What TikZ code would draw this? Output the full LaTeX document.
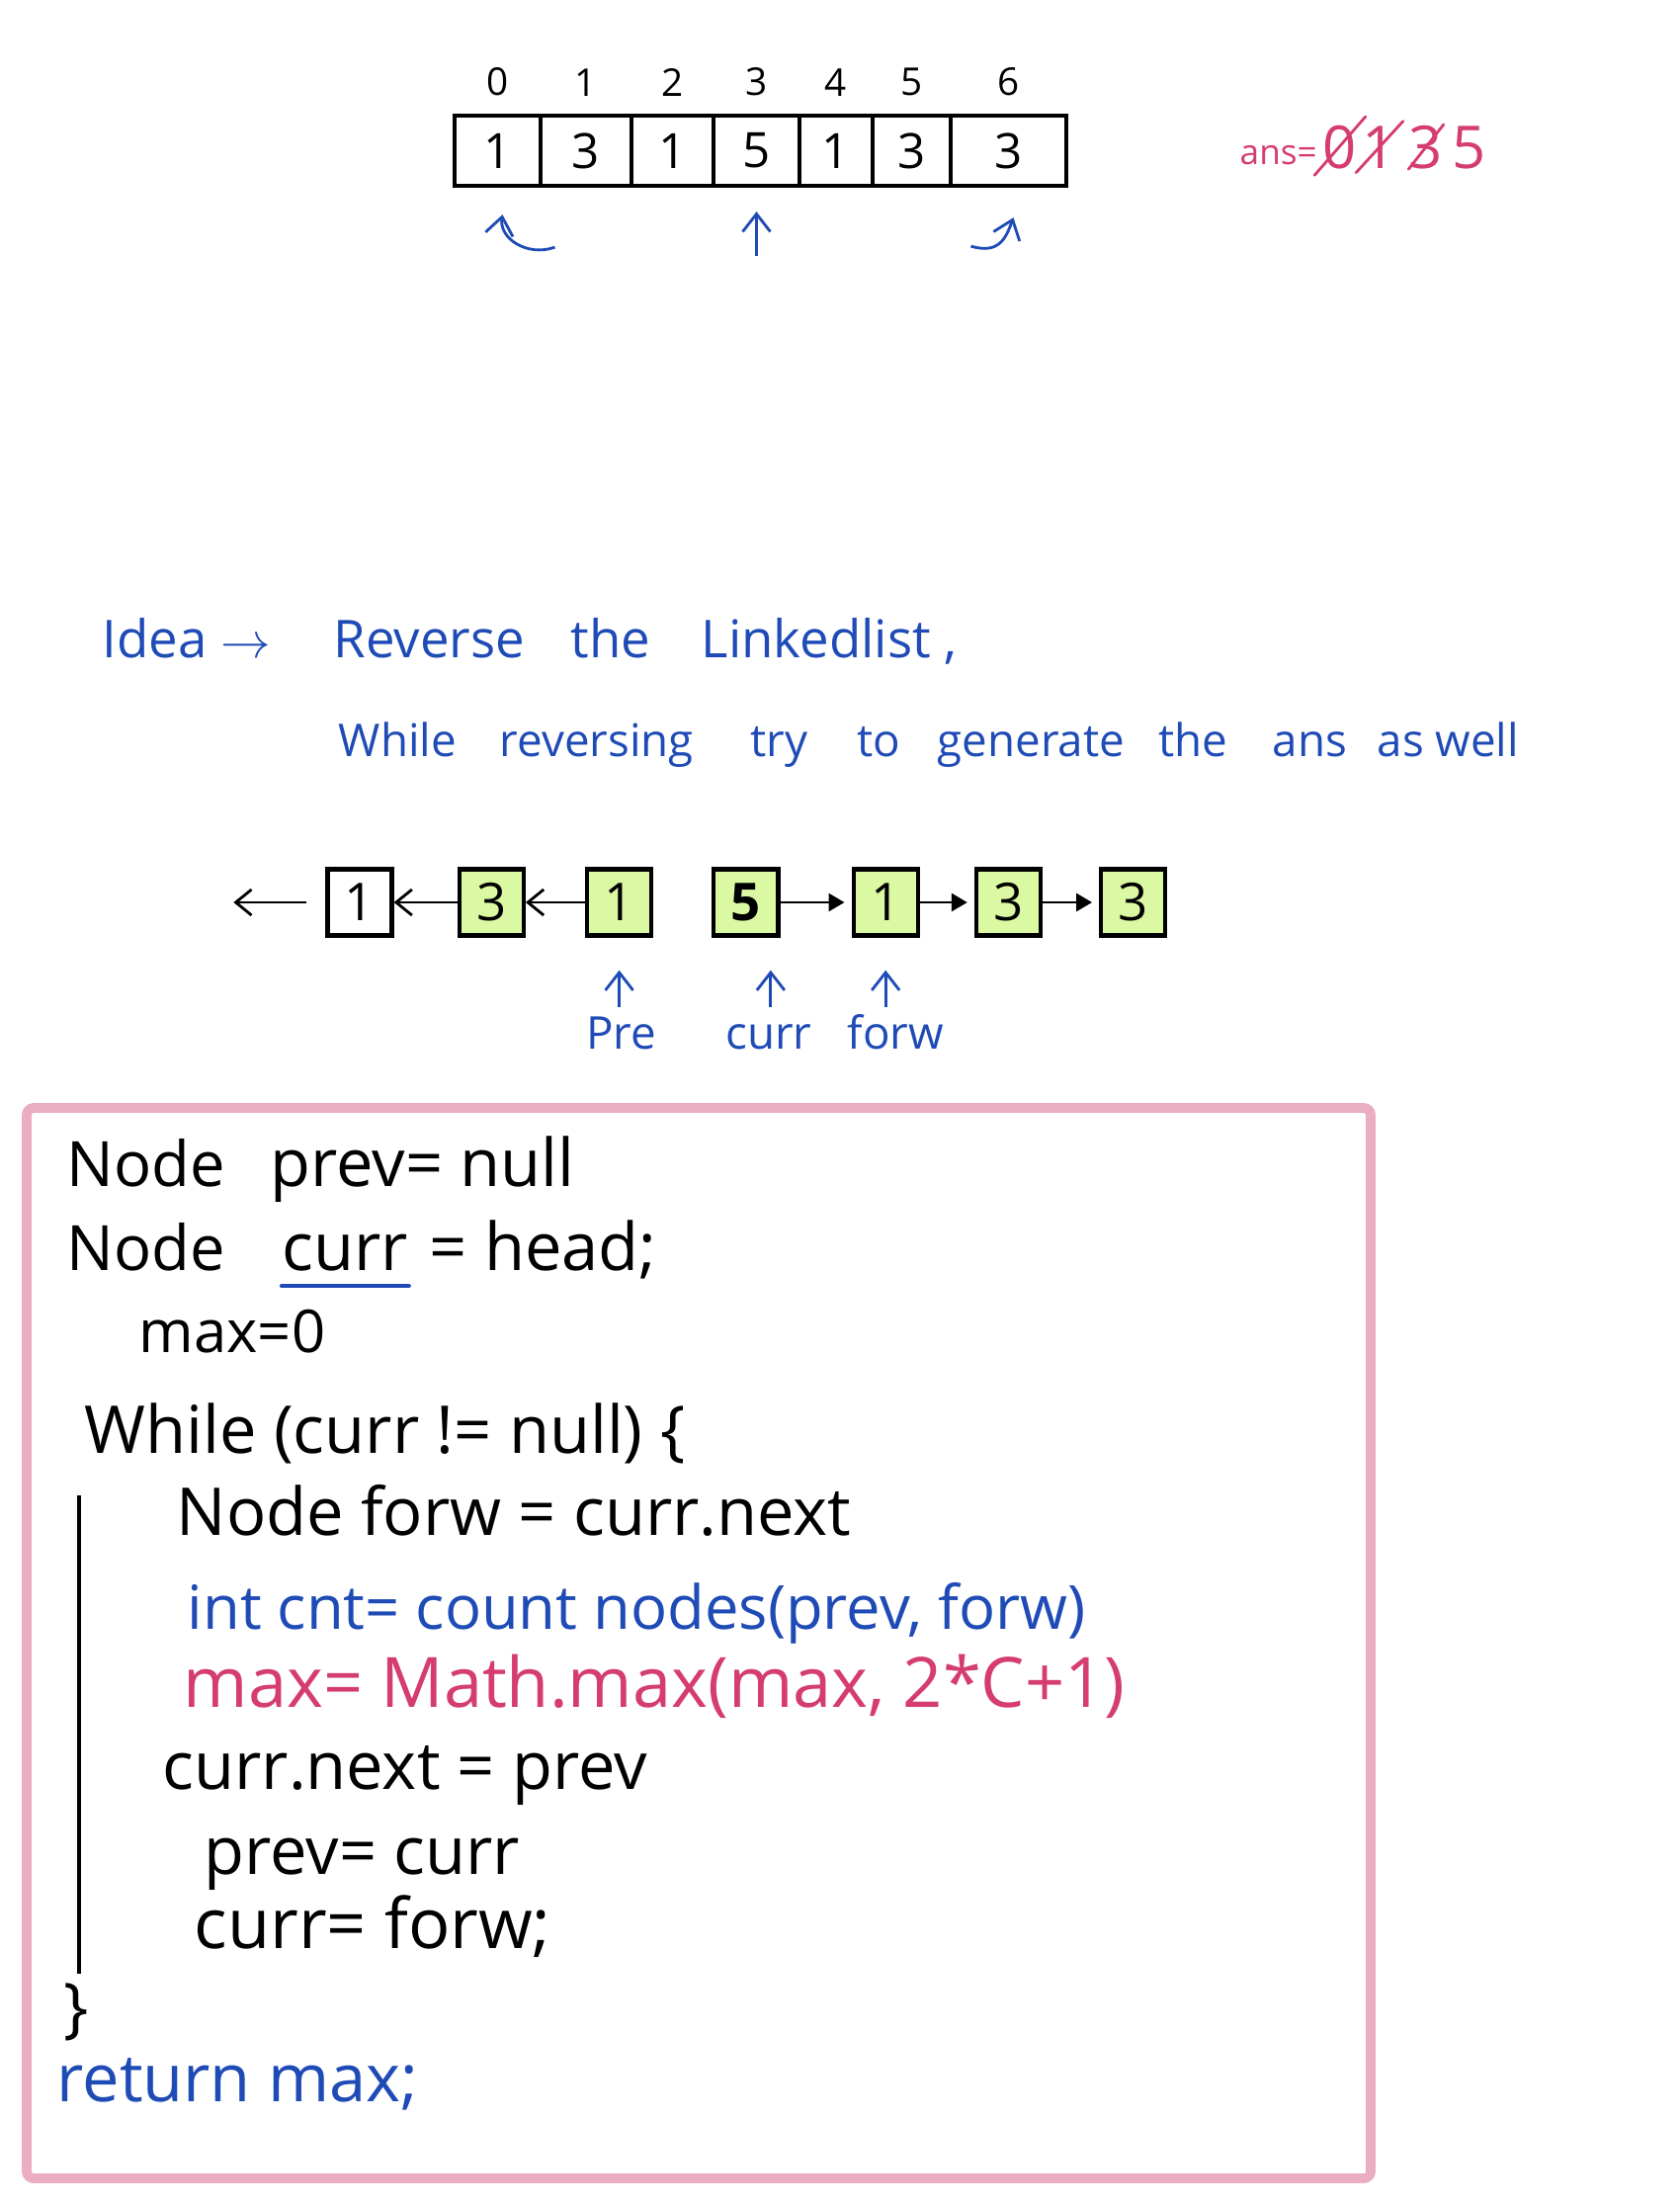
\documentclass[tikz,border=0pt]{standalone}
\usepackage{fontspec}
\setmainfont{Open Sans}
\usepackage{xcolor}
\usepackage{tikz}
\usetikzlibrary{arrows.meta,positioning}
\definecolor{inkblue}{HTML}{1F4BB6}
\definecolor{inkpink}{HTML}{D43C72}
\definecolor{framepink}{HTML}{EBADC1}
\definecolor{nodegreen}{HTML}{DBF8A3}

\begin{document}
\begin{tikzpicture}[
    x=0.01cm,y=-0.01cm,
    every node/.style={inner sep=0pt},
    cell/.style={draw,very thick,minimum height=0.71cm,font=\fontsize{14}{16}\selectfont},
    index/.style={font=\fontsize{11}{13}\selectfont},
    listnode/.style={draw,very thick,fill=nodegreen,minimum width=0.65cm,
      minimum height=0.67cm,font=\fontsize{15}{18}\selectfont},
    back/.style={-{Straight Barb[length=1.6mm,width=2.6mm]},thick},
    fwd/.style={-{Triangle[length=1.6mm,width=1.8mm]},thick},
    pointer/.style={-{Straight Barb[length=1.8mm,width=2.8mm]},thick,inkblue},
    note/.style={font=\fontsize{15}{18}\selectfont,text=inkblue,anchor=base west},
    code/.style={font=\fontsize{19}{22}\selectfont,anchor=base west},
    strike/.style={thick,inkpink,line cap=round},
    frame/.style={draw=framepink,line width=2.8pt,rounded corners=2pt}
  ]
  \useasboundingbox (0,0) rectangle (1700,2232);

  \foreach \i/\l/\r/\v in {0/460/547/1,1/547/639/3,2/639/722/1,3/722/809/5,
      4/809/883/1,5/883/962/3,6/962/1079/3} {
    \node[cell,minimum width={(\r-\l)*0.01cm}] (c\i) at ({(\l+\r)/2},152.5) {\v};
    \node[index,above=0.17cm of c\i] (idx\i) {\i};
  }
  \draw[pointer] ([shift={(58,60)}]c0.south) .. controls +(-28,10) and +(-4,24) .. ([shift={(5,27)}]c0.south);
  \draw[pointer] ([shift={(0,69)}]c3.south) -- ([shift={(0,24)}]c3.south);
  \draw[pointer] ([shift={(-38,59)}]c6.south) .. controls +(28,8) and +(-8,22) .. ([shift={(5,30)}]c6.south);

  \node[anchor=base west,text=inkpink,font=\fontsize{10}{12}\selectfont] (ans) at (1254,166) {ans=};
  \foreach \d/\x/\n in {0/1356/z0,1/1396/z1,3/1443/z3,5/1487/z5}
    \node[anchor=base,text=inkpink,font=\fontsize{17}{20}\selectfont] (\n) at (\x,170) {\d};
  \draw[strike] ([shift={(-8,6)}]z0.south west) -- ([shift={(8,-8)}]z0.north east);
  \draw[strike] ([shift={(-6,4)}]z1.south west) -- ([shift={(6,-4)}]z1.north east);
  \draw[strike] (z3.south west) -- (z3.north east);

  \node[note] (idea) at (103,665) {Idea $\rightarrow$};
  \node[note] (rev) at (337,665) {Reverse};
  \node[note] (the1) at (577,665) {the};
  \node[note] (ll) at (709,665) {Linkedlist ,};
  \foreach \w/\x [count=\k] in {While/342,reversing/505,try/759,to/867,generate/948,
      the/1172,ans/1287,as well/1393}
    \node[note,font=\fontsize{13}{16}\selectfont] (w\k) at (\x,765) {\w};

  \node[listnode,fill=white] (n1) at (364,913) {1};
  \node[listnode,right=0.64cm of n1] (n2) {3};
  \node[listnode,right=0.6cm of n2] (n3) {1};
  \node[listnode,right=0.59cm of n3] (n4) {\textbf{5}};
  \node[listnode,right=0.72cm of n4] (n5) {1};
  \node[listnode,right=0.55cm of n5] (n6) {3};
  \node[listnode,right=0.57cm of n6] (n7) {3};
  \coordinate[left=0.93cm of n1.west] (nullend);
  \draw[back,shorten <=0.19cm] (n1.west) -- (nullend);
  \draw[back] (n2) -- (n1);
  \draw[back] (n3) -- (n2);
  \draw[fwd,shorten >=2pt] (n4) -- (n5);
  \draw[fwd,shorten >=2pt] (n5) -- (n6);
  \draw[fwd,shorten >=2pt] (n6) -- (n7);

  \draw[pointer] ([shift={(0,70)}]n3.south) -- ([shift={(0,33)}]n3.south);
  \draw[pointer] ([shift={(25,70)}]n4.south) -- ([shift={(25,33)}]n4.south);
  \draw[pointer] ([shift={(0,70)}]n5.south) -- ([shift={(0,33)}]n5.south);
  \node[note,anchor=base,font=\fontsize{13}{16}\selectfont] (pre) at ([shift={(2,113)}]n3.south) {Pre};
  \node[note,anchor=base,font=\fontsize{13}{16}\selectfont] (cur) at ([shift={(23,113)}]n4.south) {curr};
  \node[note,anchor=base,font=\fontsize{13}{16}\selectfont] (forw) at ([shift={(10,113)}]n5.south) {forw};

  \draw[frame] (27,1121) rectangle (1387,2204);
  \node[code,font=\fontsize{18}{21}\selectfont] (node1) at (67,1200) {Node};
  \node[code] (prevnull) at (273,1200) {prev= null};
  \node[code,font=\fontsize{18}{21}\selectfont] (node2) at (67,1285) {Node};
  \node[code] (curr) at (285,1285) {curr};
  \node[code] (head) at (434,1285) {= head;};
  \draw[inkblue,very thick,line cap=round] ([shift={(0,16)}]curr.base west) -- ([shift={(0,16)}]curr.base east);
  \node[code,font=\fontsize{17}{20}\selectfont] (maxinit) at (140,1368) {max=0};
  \node[code] (while) at (85,1470) {While (curr != null) \{};
  \node[code] (forwline) at (178,1553) {Node forw = curr.next};
  \node[code,text=inkblue,font=\fontsize{17.5}{21}\selectfont] (cntline) at (189,1648) {int cnt= count nodes(prev, forw)};
  \node[code,text=inkpink,font=\fontsize{20}{24}\selectfont] (maxline) at (185,1727) {max= Math.max(max, 2*C+1)};
  \node[code] (nextline) at (164,1810) {curr.next = prev};
  \node[code] (prevline) at (206,1896) {prev= curr};
  \node[code,font=\fontsize{20}{24}\selectfont] (currline) at (196,1971) {curr= forw;};
  \node[code] (close) at (64,2054) {\}};
  \node[code,text=inkblue] (ret) at (57,2126) {return max;};
  \draw[very thick] (80,1513) -- (80,1997);
\end{tikzpicture}
\end{document}
